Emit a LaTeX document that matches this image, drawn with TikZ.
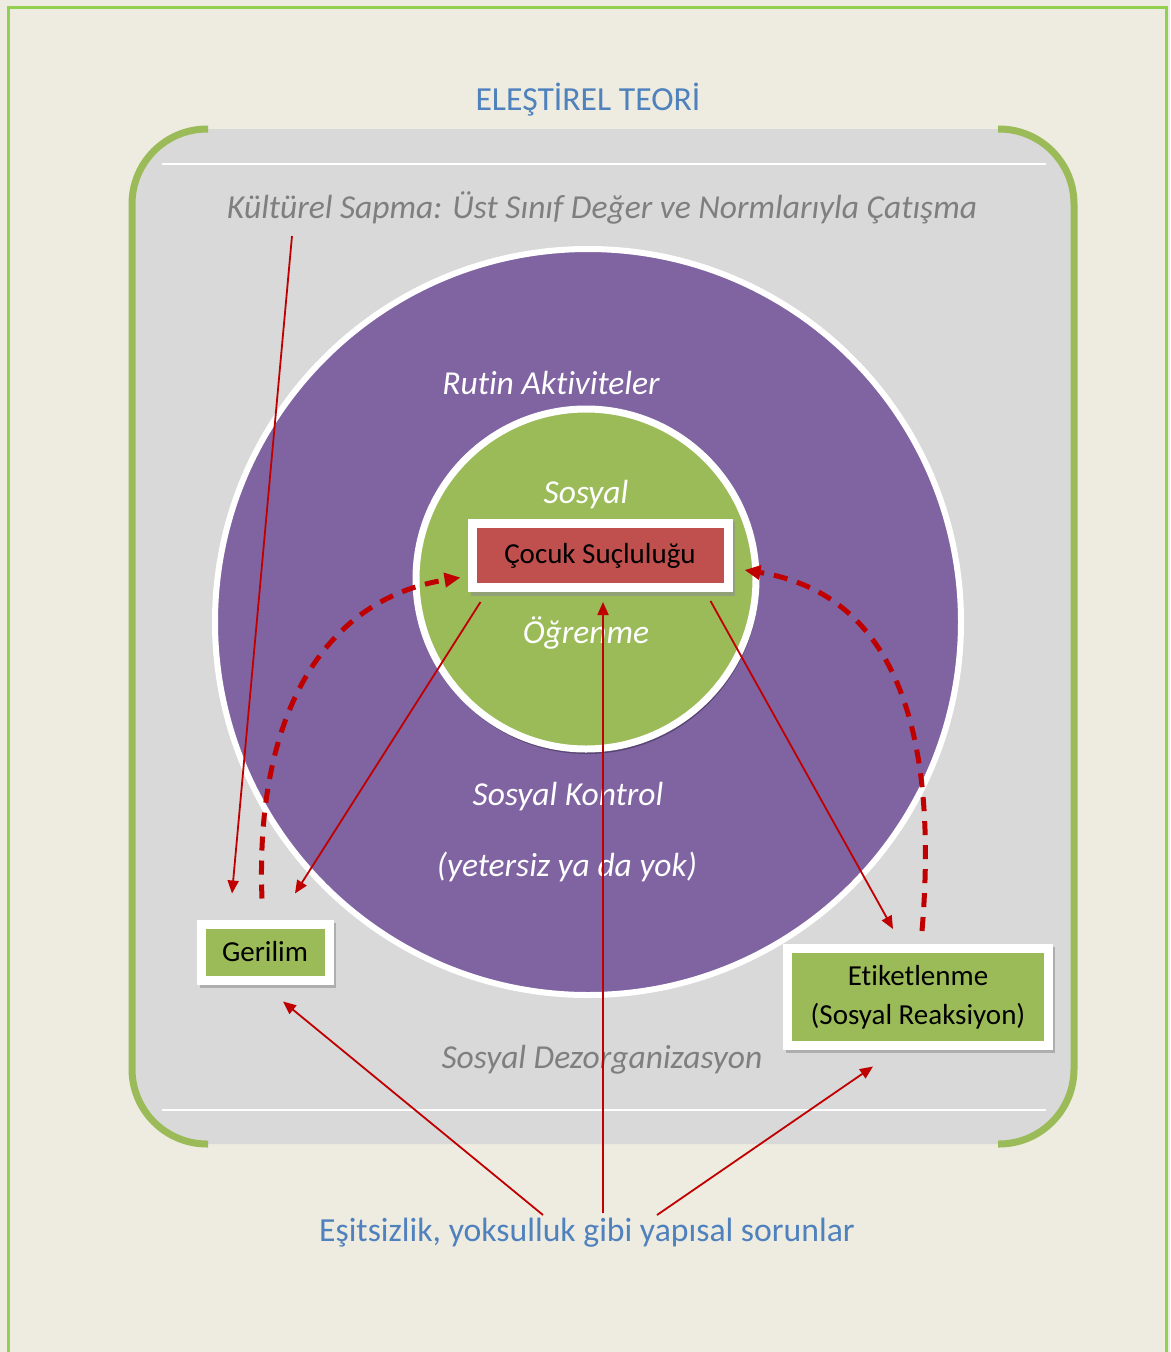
\documentclass[tikz,border=0pt]{standalone}
\usepackage{fontspec}
\setmainfont{Carlito}[Ligatures=NoCommon]
\usetikzlibrary{arrows.meta,calc}
\definecolor{bg}{HTML}{EEECE1}
\definecolor{frameg}{HTML}{92D050}
\definecolor{olive}{HTML}{9BBB59}
\definecolor{panel}{HTML}{D9D9D9}
\definecolor{purp}{HTML}{8064A2}
\definecolor{redbox}{HTML}{C0504D}
\definecolor{arrred}{HTML}{C00000}
\definecolor{blu}{HTML}{4F81BD}
\definecolor{grtxt}{HTML}{7F7F7F}
\begin{document}
\begin{tikzpicture}[x=1pt,y=-1pt,
  boxnode/.style={draw=white, line width=9pt, inner sep=0pt, text=black, align=center,
    font=\fontsize{29pt}{39pt}\selectfont},
  boxshadow/.style={fill=black!45, opacity=0.55},
  thinarr/.style={draw=arrred, line width=1.8pt, -{Triangle[length=13pt,width=11pt]}},
  dasharr/.style={draw=arrred, line width=5pt, dash pattern=on 14pt off 10pt,
    -{Triangle[length=16pt,width=14pt]}},
  wlab/.style={text=white, inner sep=0pt, font=\fontsize{33.5pt}{40pt}\selectfont\itshape},
  glab/.style={text=grtxt, inner sep=0pt, font=\fontsize{33.5pt}{40pt}\selectfont\itshape},
  blab/.style={text=blu, inner sep=0pt, font=\fontsize{33.7pt}{40pt}\selectfont}]
\useasboundingbox (0,0) rectangle (1170,1352);
\fill[bg] (0,0) rectangle (1170,1352);
\draw[frameg, line width=3pt] (8,1352) -- (8,7) -- (1166,7) -- (1166,1352);
% panel
\fill[panel, rounded corners=75pt] (131,129) rectangle (1075,1144);
\draw[olive, line width=7pt, rounded corners=75pt] (208,129) -- (132,129) -- (132,1144) -- (208,1144);
\draw[olive, line width=7pt, rounded corners=75pt] (998,129) -- (1074,129) -- (1074,1144) -- (998,1144);
\draw[white, line width=2pt] (162,164) -- (1046,164);
\draw[white, line width=2pt] (162,1110) -- (1046,1110);
% circles
\draw[white, line width=6pt, fill=purp] (588,622) circle (373pt);
\fill[black, opacity=0.3] (587,582) circle (172pt);
\draw[white, line width=7pt, fill=olive] (586,579) circle (170pt);
% labels
\node[blab] (t) at (588,100) {ELEŞTİREL TEORİ};
\node[glab] (k) at (602,208) {Kültürel Sapma: Üst Sınıf Değer ve Normlarıyla Çatışma};
\node[wlab] (ra) at (551,383) {Rutin Aktiviteler};
\node[wlab] (s1) at (586,495) {Sosyal};
\node[wlab] (s2) at (586,633) {Öğrenme};
\node[wlab] (sk) at (568,797) {Sosyal Kontrol};
\node[wlab] (sy) at (567,867) {(yetersiz ya da yok)};
\node[glab] (sd) at (602,1060) {Sosyal Dezorganizasyon};
\node[blab] (b) at (587,1233) {Eşitsizlik, yoksulluk gibi yapısal sorunlar};
% box shadows
\fill[boxshadow] (470.5,521.5) rectangle (734.5,595.5);
\fill[boxshadow] (199.5,922.5) rectangle (335.5,987.5);
\fill[boxshadow] (785.5,947) rectangle (1055,1053);
% boxes
\node[boxnode, fill=redbox, minimum width=256pt, minimum height=64pt] (c) at (600,555.5) {Çocuk Suçluluğu};
\node[boxnode, fill=olive, minimum width=128pt, minimum height=56pt] (g) at (265,952) {Gerilim};
\node[boxnode, fill=olive, minimum width=261pt, minimum height=97pt] (e) at (918,997) {Etiketlenme\\(Sosyal Reaksiyon)};
% connectors
\draw[dasharr] ([shift={(-3,-21)}]g.north) .. controls (255,720) and (320,600) .. ([shift={(-7,22)}]c.west);
\draw[dasharr] ([shift={(4,-13)}]e.north) .. controls (938,740) and (900,595) .. ([shift={(12,14.5)}]c.east);
\draw[thinarr] ([shift={(-310,28)}]k.center) -- ([shift={(-33,-26)}]g.north);
\draw[thinarr] ([shift={(13,10)}]c.south west) -- ([shift={(30,-26)}]g.north);
\draw[thinarr] ([shift={(-22,9)}]c.south east) -- ([shift={(-25,-15)}]e.north);
\draw[thinarr] ([shift={(16,-20)}]b.center) -- ([shift={(3,10)}]c.south);
\draw[thinarr] ([shift={(-44,-18)}]b.center) -- ([shift={(18,17)}]g.south);
\draw[thinarr] ([shift={(70,-18)}]b.center) -- ([shift={(-45,16.5)}]e.south);
\end{tikzpicture}
\end{document}
